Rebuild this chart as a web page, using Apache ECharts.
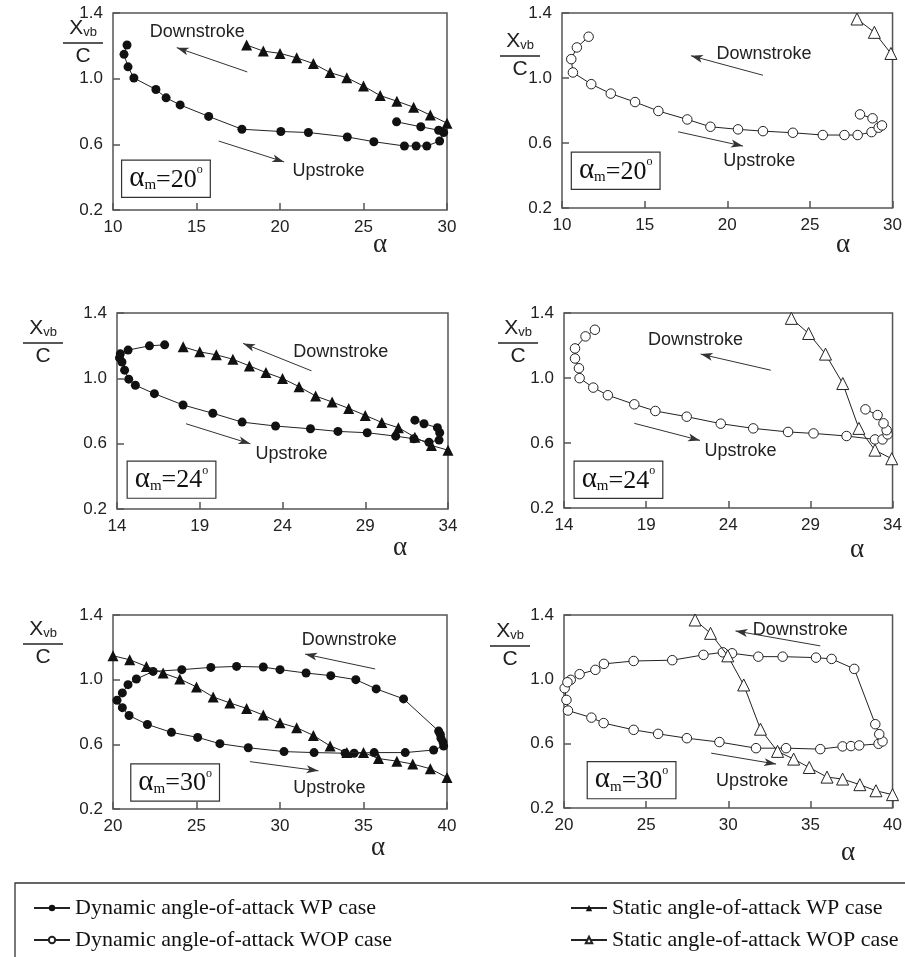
<!DOCTYPE html>
<html>
<head>
<meta charset="utf-8">
<script src="https://cdn.jsdelivr.net/npm/echarts@6/dist/echarts.min.js"></script>
<style>
html, body { margin: 0; padding: 0; background: #fff; }
#chart { width: 905px; height: 957px; }
</style>
</head>
<body>
<div id="chart"></div>
<script>
// (alpha, Xvb/C)
const dynWP_20 = [[10.84,1.205],[10.66,1.148],[10.9,1.072],[11.25,1.004],[12.57,0.934],[13.18,0.883],[14.02,0.84],[15.73,0.77],[17.72,0.692],[20.05,0.678],[21.7,0.672],[24.03,0.645],[25.62,0.616],[27.45,0.59],[28.15,0.59],[28.79,0.59],[29.56,0.62],[29.8,0.672],[29.5,0.686],[28.43,0.707],[26.98,0.737]];
const statWP_20 = [[18,1.205],[19,1.168],[20,1.154],[21,1.127],[22,1.092],[23,1.037],[24,1.006],[25,0.955],[26,0.897],[27,0.863],[28,0.826],[29,0.778],[30,0.729]];
const dynWOP_20 = [[11.61,1.254],[10.9,1.188],[10.56,1.116],[10.66,1.034],[11.77,0.962],[12.95,0.904],[14.42,0.852],[15.83,0.797],[17.58,0.745],[18.98,0.7],[20.65,0.684],[22.16,0.673],[23.97,0.663],[25.78,0.649],[27.09,0.649],[27.89,0.649],[28.73,0.667],[29.16,0.694],[29.36,0.708],[28.79,0.752],[28.03,0.776]];
const statWOP_20 = [[27.85,1.363],[28.9,1.281],[29.9,1.151]];

const dynWP_24 = [[16.88,1.205],[15.96,1.199],[14.67,1.173],[14.2,1.15],[14.15,1.125],[14.3,1.1],[14.46,1.05],[14.71,0.995],[15.11,0.958],[16.26,0.906],[17.99,0.837],[19.79,0.786],[21.56,0.732],[23.58,0.708],[25.69,0.691],[27.35,0.675],[29.12,0.667],[30.84,0.646],[31.94,0.63],[32.85,0.609],[33.46,0.622],[33.5,0.667],[33.36,0.698],[32.55,0.722],[32.0,0.744]];
const statWP_24 = [[18,1.193],[19,1.162],[20,1.144],[21,1.117],[22,1.076],[23,1.035],[24,0.999],[25,0.949],[26,0.892],[27,0.855],[28,0.816],[29,0.773],[30,0.73],[31,0.698],[32,0.64],[33,0.589],[34,0.56]];
const dynWOP_24 = [[15.88,1.297],[15.31,1.256],[14.67,1.182],[14.67,1.12],[14.91,1.06],[14.95,0.999],[15.78,0.941],[16.67,0.894],[18.28,0.838],[19.56,0.797],[21.47,0.762],[23.54,0.719],[25.52,0.69],[27.64,0.668],[29.19,0.659],[31.2,0.643],[32.93,0.622],[33.39,0.622],[33.7,0.653],[33.64,0.679],[33.45,0.721],[33.09,0.772],[32.35,0.807]];
const statWOP_24 = [[27.84,1.367],[28.89,1.274],[29.92,1.147],[30.97,0.966],[31.95,0.69],[32.93,0.556],[33.95,0.503]];

const dynWP_30 = [[39.5,0.682],[37.4,0.881],[35.76,0.943],[34.54,1.0],[33.04,1.025],[31.56,1.041],[30.0,1.062],[29.0,1.078],[27.4,1.082],[25.86,1.076],[24.12,1.062],[22.4,1.051],[21.4,1.004],[20.9,0.969],[20.56,0.918],[20.24,0.873],[20.56,0.827],[20.96,0.778],[22.06,0.723],[23.5,0.674],[25.07,0.643],[26.4,0.604],[28.1,0.579],[30.24,0.555],[32.04,0.549],[33.9,0.545],[34.44,0.545],[35.64,0.549],[37.5,0.549],[39.2,0.565],[39.8,0.59],[39.76,0.614],[39.64,0.637],[39.6,0.662]];
const statWP_30 = [[20,1.148],[21,1.123],[22,1.082],[23,1.041],[24,1.004],[25,0.955],[26,0.893],[27,0.856],[28,0.822],[29,0.781],[30,0.733],[31,0.703],[32,0.655],[33,0.59],[34,0.549],[35,0.549],[35.9,0.512],[37,0.496],[37.95,0.478],[39,0.449],[40,0.395]];
const dynWOP_30 = [[20.04,0.945],[20.15,0.872],[20.24,0.806],[21.67,0.762],[22.41,0.728],[24.24,0.686],[25.73,0.661],[27.48,0.634],[29.46,0.61],[31.69,0.572],[33.52,0.572],[35.6,0.566],[36.96,0.583],[37.47,0.585],[37.97,0.589],[39.15,0.599],[39.39,0.614],[39.19,0.659],[38.95,0.721],[37.67,1.065],[36.29,1.127],[35.34,1.135],[33.31,1.141],[31.83,1.141],[30.23,1.162],[29.67,1.168],[28.49,1.152],[26.59,1.119],[24.24,1.114],[22.43,1.096],[21.91,1.059],[20.95,1.032],[20.41,0.997],[20.21,0.982]];
const statWOP_30 = [[27.98,1.369],[28.92,1.286],[29.97,1.146],[30.94,0.965],[31.96,0.69],[33,0.552],[33.98,0.504],[34.93,0.452],[36.01,0.392],[36.96,0.38],[38.01,0.345],[38.99,0.307],[40,0.283]];

const xRanges = [[10, 30], [10, 30], [14, 34], [14, 34], [20, 40], [20, 40]];
const yRange = [0.2, 1.4];
const meanAngles = ['20', '20', '24', '24', '30', '30'];

const NAME_DWP = 'Dynamic angle-of-attack WP case';
const NAME_SWP = 'Static angle-of-attack WP case';
const NAME_DWOP = 'Dynamic angle-of-attack WOP case';
const NAME_SWOP = 'Static angle-of-attack WOP case';

const panels = [
  { dyn: dynWP_20, stat: statWP_20, wp: true },
  { dyn: dynWOP_20, stat: statWOP_20, wp: false },
  { dyn: dynWP_24, stat: statWP_24, wp: true },
  { dyn: dynWOP_24, stat: statWOP_24, wp: false },
  { dyn: dynWP_30, stat: statWP_30, wp: true },
  { dyn: dynWOP_30, stat: statWOP_30, wp: false }
];

// layout (pixels)
const grids = [
  { left: 113, top: 13, width: 334, height: 197 },
  { left: 562, top: 13, width: 333, height: 195 },
  { left: 117, top: 313, width: 331, height: 196 },
  { left: 564, top: 313, width: 331, height: 195 },
  { left: 113, top: 615, width: 334, height: 194 },
  { left: 564, top: 615, width: 329, height: 193 }
];
const alphaPos = [[380, 245], [843, 245], [400, 548], [857, 550], [378, 848], [848, 853]];
const xvbPos = [[83, 18], [520, 31], [43, 318], [518, 318], [43, 619], [510, 621]];

// annotation spots in data units
const notes = [
  { down: [12.2, 1.287], downArrow: [[18.04, 1.041], [13.82, 1.189]], up: [20.75, 0.436], upArrow: [[16.33, 0.62], [20.25, 0.493]], box: [10.55, 0.5] },
  { down: [19.35, 1.147], downArrow: [[22.16, 1.017], [17.8, 1.137]], up: [19.75, 0.492], upArrow: [[17.03, 0.669], [20.95, 0.581]], box: [10.6, 0.54] },
  { down: [24.65, 1.158], downArrow: [[25.75, 1.046], [21.62, 1.214]], up: [22.37, 0.534], upArrow: [[18.17, 0.722], [22.06, 0.599]], box: [14.65, 0.49] },
  { down: [19.11, 1.235], downArrow: [[26.59, 1.048], [22.32, 1.147]], up: [22.55, 0.55], upArrow: [[18.28, 0.721], [22.28, 0.616]], box: [14.65, 0.485] },
  { down: [31.3, 1.246], downArrow: [[35.7, 1.066], [31.5, 1.158]], up: [30.8, 0.327], upArrow: [[28.2, 0.493], [32.3, 0.436]], box: [21.1, 0.475] },
  { down: [31.49, 1.307], downArrow: [[35.6, 1.208], [30.44, 1.301]], up: [29.26, 0.365], upArrow: [[28.96, 0.541], [32.91, 0.473]], box: [21.45, 0.485] }
];

const INK = '#222';
const sans = '"Liberation Sans", Arial, sans-serif';
const serif = '"Liberation Serif", "Times New Roman", serif';

const xAxes = [], yAxes = [], series = [];
panels.forEach(function (p, i) {
  xAxes.push({
    type: 'value', gridIndex: i, min: xRanges[i][0], max: xRanges[i][1], interval: 5,
    axisLine: { show: false },
    axisTick: { show: true, inside: true, length: 7, lineStyle: { color: '#555', width: 1.5 } },
    axisLabel: { color: INK, fontSize: 17, fontFamily: sans, margin: 9 },
    splitLine: { show: false }
  });
  yAxes.push({
    type: 'value', gridIndex: i, min: yRange[0], max: yRange[1], interval: 0.4,
    axisLine: { show: false },
    axisTick: { show: true, inside: true, length: 7, lineStyle: { color: '#555', width: 1.5 } },
    axisLabel: { color: INK, fontSize: 17, fontFamily: sans, margin: 10, formatter: function (v) { return v.toFixed(1); } },
    splitLine: { show: false }
  });
  const n = notes[i];
  series.push({
    name: p.wp ? NAME_DWP : NAME_DWOP,
    type: 'line', xAxisIndex: i, yAxisIndex: i, data: p.dyn,
    symbol: 'circle', symbolSize: p.wp ? 9 : 9.5, showAllSymbol: true, clip: false,
    lineStyle: { color: INK, width: 1 },
    itemStyle: p.wp ? { color: '#111' } : { color: '#fff', borderColor: INK, borderWidth: 1 },
    animation: false, z: 3,
    markLine: {
      silent: true, symbol: ['none', 'arrow'], symbolSize: [6, 12], animation: false,
      label: { show: false },
      lineStyle: { color: '#333', width: 1, type: 'solid' },
      data: [
        [{ coord: n.downArrow[0] }, { coord: n.downArrow[1] }],
        [{ coord: n.upArrow[0] }, { coord: n.upArrow[1] }]
      ]
    }
  });
  series.push({
    name: p.wp ? NAME_SWP : NAME_SWOP,
    type: 'line', xAxisIndex: i, yAxisIndex: i, data: p.stat,
    symbol: 'triangle', symbolSize: p.wp ? 11 : 12, showAllSymbol: true, clip: false,
    lineStyle: { color: INK, width: 1 },
    itemStyle: p.wp ? { color: '#111' } : { color: '#fff', borderColor: INK, borderWidth: 1 },
    animation: false, z: 4
  });
});

const chart = echarts.init(document.getElementById('chart'), null, { renderer: 'canvas' });
chart.setOption({
  backgroundColor: '#fff',
  animation: false,
  grid: grids.map(function (g) {
    return Object.assign({ show: true, borderColor: '#555', borderWidth: 1.5, backgroundColor: 'transparent' }, g);
  }),
  xAxis: xAxes,
  yAxis: yAxes,
  legend: [
    {
      left: 28, top: 892, orient: 'vertical', itemGap: 10, itemWidth: 36, itemHeight: 8,
      data: [NAME_DWP, NAME_DWOP],
      textStyle: { fontFamily: serif, fontSize: 22, color: '#111' }
    },
    {
      left: 565, top: 892, orient: 'vertical', itemGap: 10, itemWidth: 36, itemHeight: 8,
      data: [NAME_SWP, NAME_SWOP],
      textStyle: { fontFamily: serif, fontSize: 22, color: '#111' }
    }
  ],
  series: series
});

// text annotations placed through the axes
const graphics = [];
notes.forEach(function (n, i) {
  const toPx = function (pt) { return chart.convertToPixel({ gridIndex: i }, pt); };
  const d = toPx(n.down), u = toPx(n.up), b = toPx(n.box);
  graphics.push({ type: 'text', x: d[0], y: d[1], style: { text: 'Downstroke', font: '18px ' + sans, fill: INK, verticalAlign: 'middle' } });
  graphics.push({ type: 'text', x: u[0], y: u[1], style: { text: 'Upstroke', font: '18px ' + sans, fill: INK, verticalAlign: 'middle' } });
  graphics.push({
    type: 'text', x: b[0], y: b[1], z: 10,
    style: {
      text: '{a|α}{m|m}{t|=' + meanAngles[i] + '}{d|o}',
      rich: {
        a: { fontFamily: serif, fontSize: 29, fill: '#111', verticalAlign: 'bottom' },
        m: { fontFamily: serif, fontSize: 15, fill: '#111', verticalAlign: 'bottom' },
        t: { fontFamily: serif, fontSize: 26, fill: '#111', verticalAlign: 'bottom' },
        d: { fontFamily: serif, fontSize: 12, fill: '#111', verticalAlign: 'top' }
      },
      backgroundColor: '#fff', borderColor: '#333', borderWidth: 1.2, padding: [3, 7, 4, 7]
    }
  });
  graphics.push({
    type: 'text', x: alphaPos[i][0], y: alphaPos[i][1],
    style: { text: 'α', font: '27px ' + serif, fill: INK, align: 'center', verticalAlign: 'middle' }
  });
  const c = xvbPos[i];
  graphics.push({
    type: 'text', x: c[0], y: c[1],
    style: {
      text: '{x|X}{s|vb}', align: 'center',
      rich: {
        x: { fontFamily: sans, fontSize: 21, fill: INK, verticalAlign: 'bottom' },
        s: { fontFamily: sans, fontSize: 13, fill: INK, verticalAlign: 'bottom' }
      }
    }
  });
  graphics.push({ type: 'line', shape: { x1: c[0] - 20, y1: c[1] + 25, x2: c[0] + 20, y2: c[1] + 25 }, style: { stroke: INK, lineWidth: 1.3 } });
  graphics.push({ type: 'text', x: c[0], y: c[1] + 28, style: { text: 'C', font: '21px ' + sans, fill: INK, align: 'center' } });
});
graphics.push({ type: 'rect', shape: { x: 15, y: 883, width: 900, height: 100 }, style: { fill: 'none', stroke: '#333', lineWidth: 1.3 } });

chart.setOption({ graphic: graphics });
window.onresize = chart.resize;
</script>
</body>
</html>
